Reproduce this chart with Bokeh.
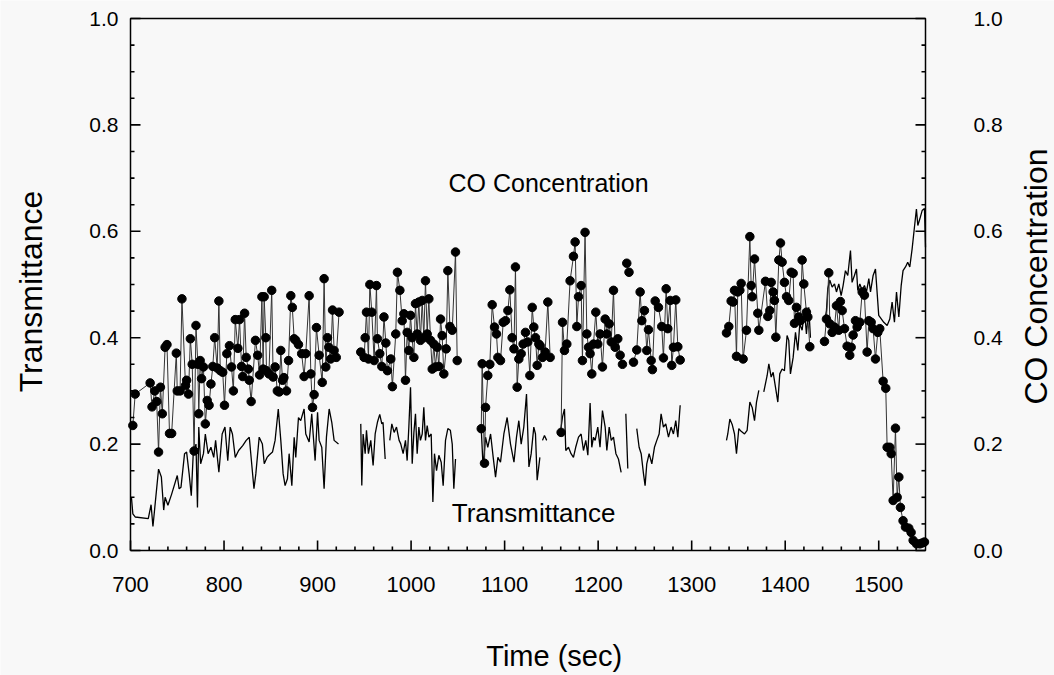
import math
from bokeh.plotting import figure
from bokeh.models import Label
from bokeh.core.properties import value
from bokeh.embed import file_html
from bokeh.resources import INLINE

nan = float("nan")

# ---- CO concentration (dots joined by a thin line); nan = gap in record ----
co_time = [
    702.5, 705, 721, 723, 726, 728, 730, 732, 734, 737, 739, 741.7, 744, 749, 750, 753, 755, 758.8, 760, 762,
    764, 766, 768, 770, 772, 773, 774.5, 776, 778, 780, 782, 784, 786, 788, 790, 792.7, 794.5, 796, 798.6, 800.5,
    803, 805.8, 808, 810, 812, 814.8, 816.6, 818.7, 820, 822, 823.7, 826, 827, 829, 833.6, 836, 838, 840.5, 841.8,
    842.9, 844.7, 845.4, 848, 851, 852.5, 854.6, 857, 859, 860.7, 862.5, 864, 866.8, 869, 871.4, 873, 875, 876.7,
    879.6, 883, 885.6, 887.4, 891, 892.8, 894.6, 896.3, 898.8, 901.7, 905, 907, 908.8, 910.6, 912, 914, 916, 917.7,
    920, 923,
    nan,
    946.2, 949.8, 950.9, 952.3, 954.4, 955.9, 958, 960.5, 963, 964, 966.5, 968.7, 971, 973, 974.7, 978.3, 980,
    983.6, 985.4, 988, 990.5, 992.3, 994, 995.8, 997.6, 999.4, 1001, 1003, 1004.7, 1006.5, 1008.3, 1010, 1011.9,
    1013.6, 1015.4, 1017.2, 1019, 1020.8, 1022.6, 1024.3, 1026, 1028, 1029.7, 1031.5, 1033.2, 1035, 1037.5, 1039.3,
    1041.5, 1044, 1047.5, 1049.3,
    nan,
    1075, 1076, 1078.5, 1079.6, 1082, 1084.2, 1086.7, 1089.2, 1091.3, 1092.8, 1095.6, 1098.5, 1101, 1103.5, 1105.6,
    1108, 1110, 1111.6, 1113.4, 1115.2, 1117.7, 1119.8, 1122.3, 1124.8, 1127, 1129.5, 1131.2, 1133, 1134.8, 1136.6,
    1138, 1140.5, 1143.3, 1146.2, 1148.7,
    nan,
    1160.4, 1161.9, 1164, 1166.5, 1170, 1173.6, 1175.4, 1177.2, 1179, 1181.8, 1183.2, 1186, 1187.9, 1189.7, 1191.4,
    1193.2, 1195, 1197.5, 1199.6, 1202.1, 1204.6, 1207.5, 1209.3, 1211.8, 1214, 1216.4, 1218.2, 1221, 1223.5, 1226,
    nan,
    1230.6, 1233,
    nan,
    1237.8, 1241.3, 1244.9, 1246.7, 1249.5, 1252, 1253.8, 1256.7, 1258, 1261, 1264.5, 1268, 1269.8, 1272.7, 1274.5,
    1277, 1278.7, 1280.5, 1283, 1285.2, 1287.7,
    nan,
    1337.2, 1339.7, 1342.2, 1344.3, 1345.8, 1347.9, 1349.3, 1351.5, 1352.9, 1355, 1358.6, 1362.2, 1363.6, 1364.7,
    1367.2, 1370.7, 1371.8, 1378.9, 1381.4, 1383.5, 1385, 1387.1, 1388.5, 1390, 1393.2, 1395, 1396.7, 1399.2, 1401.4,
    1403.8, 1406.4, 1408.5, 1409.9, 1412, 1414.6, 1416.3, 1418.1, 1419.9, 1422.7, 1424.2, 1426.3,
    nan,
    1442, 1444.1, 1446.6, 1447.7, 1450.2, 1452.7, 1454.8, 1457.3, 1459, 1460.9, 1463.4, 1466.2, 1469, 1470.5, 1472.6,
    1475.1, 1476.9, 1479.8, 1482.3, 1484.7, 1487.6, 1489.4, 1491.9, 1494, 1496.5, 1499, 1501.1, 1504.7, 1507.5, 1509,
    1511.8, 1513.3, 1515.4, 1517.9, 1519.7, 1521.5, 1523.2, 1526, 1528.6, 1532.1, 1534.6, 1536.8, 1540.3, 1543.9,
    1546.4, 1548.9,
]
co_value = [
    0.235, 0.294, 0.315, 0.27, 0.30, 0.28, 0.185, 0.307, 0.257, 0.382, 0.387, 0.22, 0.22, 0.371, 0.30, 0.30, 0.473, 0.31, 0.32, 0.294,
    0.398, 0.35, 0.187, 0.423, 0.35, 0.257, 0.357, 0.323, 0.345, 0.238, 0.282, 0.273, 0.313, 0.346, 0.40, 0.343, 0.469, 0.338, 0.335, 0.273,
    0.37, 0.385, 0.345, 0.30, 0.434, 0.38, 0.434, 0.346, 0.327, 0.446, 0.363, 0.341, 0.32, 0.28, 0.395, 0.367, 0.33, 0.477, 0.341,
    0.477, 0.40, 0.338, 0.332, 0.489, 0.326, 0.345, 0.30, 0.298, 0.376, 0.32, 0.325, 0.30, 0.357, 0.479, 0.457, 0.398, 0.395,
    0.387, 0.37, 0.327, 0.37, 0.479, 0.332, 0.269, 0.293, 0.419, 0.367, 0.316, 0.511, 0.345, 0.40, 0.382, 0.36, 0.452, 0.376,
    0.363, 0.448,
    nan,
    0.373, 0.363, 0.40, 0.448, 0.36, 0.50, 0.448, 0.357, 0.498, 0.398, 0.37, 0.346, 0.439, 0.39, 0.338, 0.36, 0.308,
    0.407, 0.523, 0.489, 0.432, 0.445, 0.32, 0.41, 0.376, 0.442, 0.40, 0.363, 0.464, 0.407, 0.467, 0.395, 0.47,
    0.40, 0.507, 0.407, 0.473, 0.395, 0.341, 0.388, 0.345, 0.382, 0.346, 0.435, 0.404, 0.332, 0.379, 0.526,
    0.421, 0.414, 0.561, 0.357,
    nan,
    0.229, 0.351, 0.164, 0.269, 0.329, 0.35, 0.462, 0.42, 0.407, 0.363, 0.357, 0.429, 0.432, 0.451, 0.49,
    0.40, 0.379, 0.533, 0.307, 0.36, 0.37, 0.388, 0.41, 0.392, 0.329, 0.457, 0.42, 0.40, 0.348, 0.388,
    0.385, 0.363, 0.373, 0.467, 0.363,
    nan,
    0.222, 0.429, 0.376, 0.388, 0.507, 0.553, 0.58, 0.421, 0.477, 0.498, 0.357, 0.598, 0.407, 0.382, 0.37,
    0.332, 0.388, 0.448, 0.388, 0.407, 0.345, 0.435, 0.407, 0.426, 0.392, 0.489, 0.382, 0.398, 0.367, 0.35,
    nan,
    0.54, 0.523,
    nan,
    0.354, 0.377, 0.486, 0.432, 0.451, 0.376, 0.415, 0.357, 0.34, 0.469, 0.457, 0.421, 0.362, 0.492, 0.417,
    0.47, 0.348, 0.382, 0.471, 0.383, 0.358,
    nan,
    0.409, 0.421, 0.469, 0.467, 0.489, 0.365, 0.486, 0.489, 0.502, 0.36, 0.414, 0.59, 0.498, 0.477,
    0.548, 0.446, 0.414, 0.506, 0.44, 0.451, 0.504, 0.486, 0.47, 0.401, 0.546, 0.578, 0.542, 0.504, 0.477,
    0.47, 0.523, 0.521, 0.427, 0.457, 0.439, 0.432, 0.546, 0.501, 0.448, 0.439, 0.383,
    nan,
    0.393, 0.435, 0.522, 0.426, 0.41, 0.42, 0.46, 0.414, 0.468, 0.451, 0.417, 0.384, 0.367, 0.382, 0.405,
    0.432, 0.42, 0.429, 0.486, 0.48, 0.373, 0.432, 0.429, 0.417, 0.36, 0.41, 0.417, 0.318, 0.305, 0.194,
    0.194, 0.182, 0.094, 0.23, 0.10, 0.138, 0.081, 0.056, 0.044, 0.042, 0.034, 0.019, 0.0125, 0.0125,
    0.014, 0.016,
]

# ---- Transmittance (plain line); nan = gap in record ----
tr_time = [
    701, 702.5, 705, 719, 722, 724, 726, 730, 733, 735.5, 737, 740, 744, 750, 752, 754, 757.8, 760, 762.7, 765,
    767, 770, 771.6, 773, 775, 778, 780, 783, 786, 789, 791, 794.5, 798, 801, 804, 806.6, 809, 812, 815.6, 820,
    823.7, 827, 832, 834, 837.6, 841, 843, 846, 848, 851.8, 854.6, 858, 860.7, 863.2, 865.3, 867.8, 869.6, 872.5,
    875, 876.7, 879.6, 882, 885.6, 887.4, 891, 893.8, 895.3, 897.4, 900, 901.7, 904.5, 907, 909.5, 912.4, 915.2,
    917.7, 922.4,
    nan,
    946.2, 947.3, 948.7, 950.9, 952.3, 954.4, 956.9, 959.4, 961.6, 964, 966.5, 968.7, 970, 972.3,
    nan,
    977.2, 979.4, 981.9, 984.4, 987.2, 989, 991.5, 994, 995.8, 997.6, 999.4, 1001.2, 1003, 1004.7, 1006.5, 1008.3,
    1010, 1011.9, 1013.6, 1015.4, 1017.2, 1019, 1021.5, 1023.3, 1025, 1027.2, 1029.7, 1032.2, 1034.3, 1036.8,
    1039.3, 1042, 1044, 1045.7, 1047.5,
    nan,
    1075, 1077, 1079.6, 1082, 1085, 1087.8, 1090.3, 1092.8, 1095.6, 1099.2, 1102.7, 1106.3, 1110, 1112.7, 1115.2,
    1117.7, 1120.5, 1123.4, 1126, 1128.4, 1131.2, 1133, 1134.8, 1137.7,
    nan,
    1140.5, 1142.6, 1145,
    nan,
    1159.4, 1161.9, 1164, 1165.4, 1168.3, 1171, 1173.6, 1176, 1179, 1181.8, 1184.3, 1186.8, 1189, 1191.4, 1193.2,
    1195, 1196.8, 1199.6, 1202, 1204.6, 1207.5, 1209.3, 1211.8, 1214, 1216.4, 1219, 1221.7, 1224.6,
    nan,
    1229.6, 1231.7,
    nan,
    1241.3, 1243.8, 1246, 1248.5, 1250.2, 1252, 1254.5, 1257.4, 1260.2, 1262.7, 1265.2, 1267.3, 1269.8, 1272.3,
    1275.2, 1278, 1280.5, 1283, 1285.2, 1287.7,
    nan,
    1337.2, 1338.6, 1340.8, 1343.3, 1345.8, 1347.9, 1350.4, 1352.9, 1356.5, 1359.3, 1362.2, 1364.7, 1367.2, 1369.3,
    1371.8,
    nan,
    1377.1, 1380.7, 1382.5, 1385, 1387.1, 1389.6, 1392.1, 1394.2, 1396.7, 1399.2, 1402, 1403.8, 1405.6, 1408.5,
    1411, 1413.5, 1415.6, 1418.1, 1420.6, 1422.7, 1425.2, 1427,
    nan,
    1442, 1444.1, 1445.5, 1447.7, 1450.2, 1452.7, 1454.8, 1457.3, 1459.8, 1461.9, 1464.4, 1466.9, 1469.8, 1471.5,
    1474, 1476.2, 1477.6, 1479.8, 1482.3, 1484.7, 1486.9, 1489.4, 1491.2, 1494, 1496.5, 1500, 1505.4, 1509, 1511.8,
    1514.3, 1516.8, 1519, 1521.5, 1524, 1526, 1528.6, 1531, 1533.2, 1535.7, 1538.2, 1540.3, 1541.8, 1543.9, 1546.4,
    1548.9, 1550,
]
tr_value = [
    0.10, 0.069, 0.063, 0.06, 0.086, 0.045, 0.081, 0.153, 0.138, 0.076, 0.10, 0.085, 0.106, 0.141, 0.116, 0.119, 0.182, 0.185, 0.144, 0.103,
    0.179, 0.20, 0.081, 0.232, 0.163, 0.182, 0.219, 0.182, 0.194, 0.175, 0.207, 0.147, 0.219, 0.232, 0.169, 0.232, 0.219, 0.175, 0.188, 0.197,
    0.207, 0.213, 0.116, 0.144, 0.213, 0.20, 0.163, 0.175, 0.179, 0.185, 0.207, 0.266, 0.207, 0.144, 0.122, 0.135, 0.182, 0.122,
    0.213, 0.175, 0.25, 0.244, 0.266, 0.219, 0.204, 0.257, 0.219, 0.169, 0.26, 0.207, 0.194, 0.116, 0.213, 0.266, 0.241,
    0.207, 0.20,
    nan,
    0.238, 0.122, 0.219, 0.182, 0.226, 0.182, 0.207, 0.16, 0.219, 0.241, 0.256, 0.238, 0.241, 0.172,
    nan,
    0.207, 0.238, 0.222, 0.232, 0.207, 0.20, 0.182, 0.207, 0.169, 0.232, 0.307, 0.163, 0.222, 0.257, 0.182, 0.232,
    0.207, 0.219, 0.269, 0.207, 0.235, 0.213, 0.219, 0.091, 0.182, 0.15, 0.179, 0.166, 0.122, 0.207,
    0.229, 0.226, 0.20, 0.116, 0.172,
    nan,
    0.229, 0.157, 0.213, 0.194, 0.219, 0.175, 0.138, 0.175, 0.166, 0.219, 0.25, 0.20, 0.166, 0.213, 0.244,
    0.20, 0.232, 0.294, 0.157, 0.182, 0.232, 0.219, 0.132, 0.175,
    nan,
    0.207, 0.216, 0.207,
    nan,
    0.219, 0.251, 0.266, 0.188, 0.194, 0.182, 0.175, 0.194, 0.213, 0.219, 0.188, 0.207, 0.179, 0.277, 0.194,
    0.213, 0.207, 0.232, 0.194, 0.263, 0.232, 0.188, 0.232, 0.207, 0.213, 0.182, 0.172, 0.147,
    nan,
    0.257, 0.154,
    nan,
    0.229, 0.194, 0.182, 0.144, 0.122, 0.163, 0.182, 0.163, 0.194, 0.207, 0.219, 0.257, 0.232, 0.238,
    0.213, 0.232, 0.219, 0.244, 0.213, 0.273,
    nan,
    0.207, 0.219, 0.247, 0.237, 0.219, 0.182, 0.229, 0.224, 0.219, 0.226, 0.279, 0.269, 0.244, 0.279,
    0.301,
    nan,
    0.298, 0.329, 0.351, 0.326, 0.335, 0.307, 0.279, 0.332, 0.341, 0.338, 0.404, 0.395, 0.332, 0.363,
    0.41, 0.376, 0.426, 0.414, 0.451, 0.407, 0.457, 0.40,
    nan,
    0.429, 0.451, 0.492, 0.508, 0.495, 0.501, 0.486, 0.501, 0.479, 0.498, 0.526, 0.517, 0.564, 0.504,
    0.517, 0.529, 0.489, 0.501, 0.489, 0.498, 0.486, 0.511, 0.486, 0.517, 0.529, 0.442, 0.429, 0.423, 0.435,
    0.467, 0.429, 0.486, 0.439, 0.498, 0.526, 0.533, 0.542, 0.533, 0.567, 0.608, 0.642, 0.611, 0.623, 0.639,
    0.643, 0.57,
]

x_ticks = [700, 800, 900, 1000, 1100, 1200, 1300, 1400, 1500]
x_tick_labels = ["700", "800", "900", "1000", "1100", "1200", "1300", "1400", "1500"]
x_minor = [v for v in range(700, 1560, 20) if v % 100 != 0]
y_ticks = [0.0, 0.2, 0.4, 0.6, 0.8, 1.0]
y_tick_labels = ["0.0", "0.2", "0.4", "0.6", "0.8", "1.0"]
y_minor = [round(i * 0.05, 2) for i in range(21) if i % 4 != 0]

# plotting box: data limits and where that box sits on the 1054x675 page (pixels)
X0, X1, Y0, Y1 = 700, 1550, 0.0, 1.0
W, H = 1054, 675
BOX_L, BOX_R, BOX_T, BOX_B = 130, 925, 18, 550
PX_X = (X1 - X0) / (BOX_R - BOX_L)     # data units per pixel
PX_Y = (Y1 - Y0) / (BOX_B - BOX_T)
FONT = "Liberation Sans"
BG = "#f8f8f8"

p = figure(width=W, height=H,
           x_range=(X0 - BOX_L * PX_X, X1 + (W - BOX_R) * PX_X),
           y_range=(Y0 - (H - BOX_B) * PX_Y, Y1 + BOX_T * PX_Y),
           x_axis_location=None, y_axis_location=None,
           output_backend="svg", toolbar_location=None, min_border=0,
           background_fill_color=BG, border_fill_color=BG)
p.grid.visible = False
p.outline_line_color = None

# data
p.line(tr_time, tr_value, line_color="black", line_width=1.3)
p.line(co_time, co_value, line_color="#333333", line_width=1.0)
p.scatter(co_time, co_value, size=8.5, fill_color="black", line_color="black")

# box
p.line([X0, X1, X1, X0, X0], [Y0, Y0, Y1, Y1, Y0], line_color="black", line_width=1.5)

# inward tick marks, drawn as thin filled bars (width ~1.6 px)
TW = 0.8  # half tick thickness in pixels

def vticks(xs, length):          # on the bottom edge, pointing up
    p.quad(left=[x - TW * PX_X for x in xs], right=[x + TW * PX_X for x in xs],
           bottom=[Y0] * len(xs), top=[Y0 + length * PX_Y] * len(xs),
           fill_color="black", line_color=None)

def hticks(ys, edge, length, sign):   # on a side edge, pointing inward
    a, b = edge, edge + sign * length * PX_X
    p.quad(left=[min(a, b)] * len(ys), right=[max(a, b)] * len(ys),
           bottom=[y - TW * PX_Y for y in ys], top=[y + TW * PX_Y for y in ys],
           fill_color="black", line_color=None)

vticks(x_ticks, 10)
vticks(x_minor, 4)
hticks(y_ticks, X0, 10, 1)
hticks(y_minor, X0, 4, 1)
hticks(y_ticks, X1, 10, -1)
hticks(y_minor, X1, 4, -1)

# tick labels
p.text(x=x_ticks, y=[Y0 - 34 * PX_Y] * len(x_ticks), text=x_tick_labels,
       text_font=value(FONT), text_font_size="22px", text_color="black",
       text_align="center", text_baseline="middle")
p.text(x=[X0 - 12 * PX_X] * len(y_ticks), y=y_ticks, text=y_tick_labels,
       text_font=value(FONT), text_font_size="21px", text_color="black",
       text_align="right", text_baseline="middle")
p.text(x=[X1 + 48 * PX_X] * len(y_ticks), y=y_ticks, text=y_tick_labels,
       text_font=value(FONT), text_font_size="21px", text_color="black",
       text_align="left", text_baseline="middle")

# axis titles
def title(x, y, text, size, angle=0.0):
    p.add_layout(Label(x=x, y=y, text=text, angle=angle, text_font=FONT, text_font_size=size,
                       text_align="center", text_baseline="middle", text_color="black"))

title(X0 - 100 * PX_X, Y0 + 259 * PX_Y, "Transmittance", "32px", math.pi / 2)
title(X1 + 110 * PX_X, Y0 + 274 * PX_Y, "CO Concentration", "32px", math.pi / 2)
title(1153, Y0 - 105 * PX_Y, "Time (sec)", "29px")

# in-plot annotations
title(1147, 0.69, "CO Concentration", "25px")
title(1131, 0.071, "Transmittance", "26px")

open("out.html", "w").write(file_html(p, INLINE))
